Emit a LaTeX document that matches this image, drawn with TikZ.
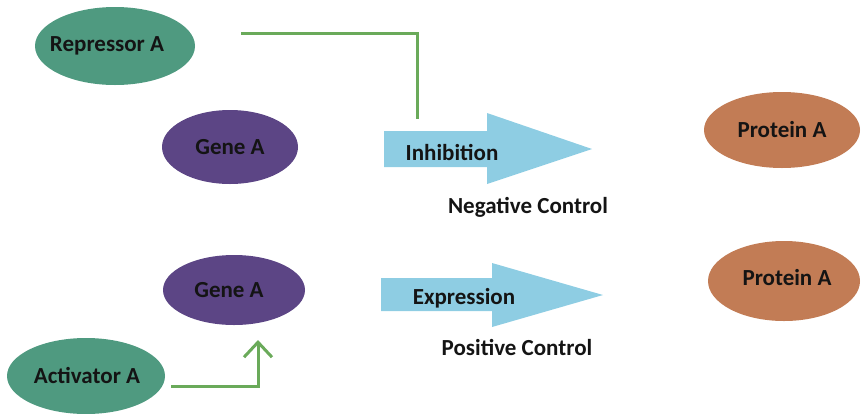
\documentclass[tikz,border=0pt]{standalone}
\usepackage{fontspec}
\setmainfont{Carlito}
\usetikzlibrary{shapes.geometric,arrows.meta}
\definecolor{tealc}{HTML}{4F9A80}
\definecolor{purplec}{HTML}{5C4585}
\definecolor{protc}{HTML}{C27C55}
\definecolor{bluec}{HTML}{8ECDE3}
\definecolor{greenc}{HTML}{6AAA5A}
\tikzset{
  blob/.style={ellipse, inner sep=0pt},
  regul/.style={blob, fill=tealc},
  gene/.style={blob, fill=purplec},
  prot/.style={blob, fill=protc},
  lbl/.style={inner sep=0pt, font=\fontsize{23}{25}\selectfont\bfseries, text=black!92},
  conn/.style={draw=greenc, line width=3pt},
  bigarrow/.style={fill=bluec, draw=none}
}
\begin{document}
\begin{tikzpicture}[x=1pt,y=-1pt]
\useasboundingbox (0,0) rectangle (861,413);
% shapes
\node[regul, minimum width=160pt, minimum height=78pt] (rep) at (115,46) {};
\node[gene, minimum width=136pt, minimum height=74pt] (gene1) at (230,147) {};
\node[prot, minimum width=156pt, minimum height=76pt] (prot1) at (782,130) {};
\node[gene, minimum width=142pt, minimum height=70pt] (gene2) at (234,290) {};
\node[regul, minimum width=158pt, minimum height=76pt] (act) at (86,376) {};
\node[prot, minimum width=152pt, minimum height=80pt] (prot2) at (784,281) {};
% labels
\node[lbl] (repl) at (107,46) {Repressor A};
\node[lbl] (gene1l) at (230,147) {Gene A};
\node[lbl] (prot1l) at (782,130) {Protein A};
\node[lbl] (gene2l) at (229,290) {Gene A};
\node[lbl] (actl) at (87,375) {Activator A};
\node[lbl] (prot2l) at (787,278) {Protein A};
% big arrows
\fill[bigarrow] (384,131) -- (487,131) -- (487,113) -- (592,149) -- (487,184) -- (487,167) -- (384,167) -- cycle;
\fill[bigarrow] (381,278) -- (492,278) -- (492,263) -- (603,295) -- (492,327) -- (492,311) -- (381,311) -- cycle;
\node[lbl] (inh) at (452,152) {Inhibition};
\node[lbl] (expr) at (464,298) {Expression};
\node[lbl] (neg) at (528,207) {Negative Control};
\node[lbl] (pos) at (517,347) {Positive Control};
% connectors
\coordinate (r0) at (242,33);
\coordinate (r1) at (417,117);
\draw[conn, line cap=rect] (r0) -| (r1);
\coordinate (a0) at (171,386);
\coordinate (a1) at (258,340);
\draw[conn, -{Straight Barb[length=15pt,width=28pt,line width=3pt]}] (a0) -| (a1);
\end{tikzpicture}
\end{document}
